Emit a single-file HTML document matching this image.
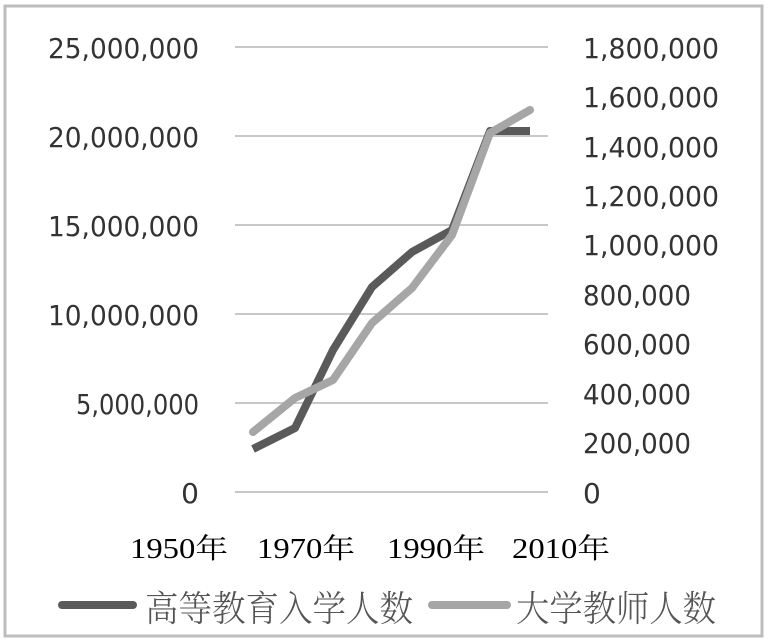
<!DOCTYPE html>
<html><head><meta charset="utf-8"><style>
html,body{margin:0;padding:0;background:#fff;}
svg{display:block;}
</style></head><body>
<svg width="768" height="644" viewBox="0 0 768 644" xmlns="http://www.w3.org/2000/svg">
<rect x="0" y="0" width="768" height="644" fill="#fff"/>
<rect x="5" y="6" width="757" height="630" fill="#fff" stroke="#bdbdbd" stroke-width="3"/>
<g stroke="#c8c8c8" stroke-width="2">
<line x1="235" y1="47" x2="548" y2="47"/>
<line x1="235" y1="136" x2="548" y2="136"/>
<line x1="235" y1="225" x2="548" y2="225"/>
<line x1="235" y1="314" x2="548" y2="314"/>
<line x1="235" y1="403" x2="548" y2="403"/>
<line x1="235" y1="492" x2="548" y2="492"/>
</g>
<g font-family="DejaVu Sans, Liberation Sans, sans-serif" font-size="28" fill="#333" text-anchor="end">
<text x="199" y="58" textLength="151" lengthAdjust="spacingAndGlyphs">25,000,000</text>
<text x="199" y="147" textLength="151" lengthAdjust="spacingAndGlyphs">20,000,000</text>
<text x="199" y="236" textLength="151" lengthAdjust="spacingAndGlyphs">15,000,000</text>
<text x="199" y="325" textLength="151" lengthAdjust="spacingAndGlyphs">10,000,000</text>
<text x="199" y="414" textLength="123" lengthAdjust="spacingAndGlyphs">5,000,000</text>
<text x="199" y="503">0</text>
</g>
<g font-family="DejaVu Sans, Liberation Sans, sans-serif" font-size="28" fill="#333" text-anchor="start">
<text x="583" y="58" textLength="136" lengthAdjust="spacingAndGlyphs">1,800,000</text>
<text x="583" y="107" textLength="136" lengthAdjust="spacingAndGlyphs">1,600,000</text>
<text x="583" y="157" textLength="136" lengthAdjust="spacingAndGlyphs">1,400,000</text>
<text x="583" y="206" textLength="136" lengthAdjust="spacingAndGlyphs">1,200,000</text>
<text x="583" y="255" textLength="136" lengthAdjust="spacingAndGlyphs">1,000,000</text>
<text x="583" y="305" textLength="108" lengthAdjust="spacingAndGlyphs">800,000</text>
<text x="583" y="354" textLength="108" lengthAdjust="spacingAndGlyphs">600,000</text>
<text x="583" y="404" textLength="108" lengthAdjust="spacingAndGlyphs">400,000</text>
<text x="583" y="453" textLength="108" lengthAdjust="spacingAndGlyphs">200,000</text>
<text x="583" y="503">0</text>
</g>
<g font-family="Liberation Serif, Noto Serif CJK SC, serif" font-size="28" fill="#000">
<text x="130" y="558" textLength="98" lengthAdjust="spacingAndGlyphs">1950年</text>
<text x="257" y="558" textLength="98" lengthAdjust="spacingAndGlyphs">1970年</text>
<text x="387" y="558" textLength="98" lengthAdjust="spacingAndGlyphs">1990年</text>
<text x="512" y="558" textLength="98" lengthAdjust="spacingAndGlyphs">2010年</text>
</g>
<polyline fill="none" stroke="#5a5a5a" stroke-width="8" stroke-linejoin="round" points="253,449 295,428 333,350 372,287 412,252 452,230 490,131 530,131"/>
<polyline fill="none" stroke="#a6a6a6" stroke-width="8" stroke-linejoin="round" stroke-linecap="round" points="253,432 295,398 333,380 372,323 412,288 452,235 490,133 530,110"/>
<line x1="62" y1="605" x2="133" y2="605" stroke="#5a5a5a" stroke-width="8" stroke-linecap="round"/>
<line x1="432" y1="605" x2="507" y2="605" stroke="#a6a6a6" stroke-width="8" stroke-linecap="round"/>
<g font-family="Noto Serif CJK SC, Noto Sans CJK SC, serif" font-size="36" font-weight="300" fill="#555">
<text x="145" y="621" textLength="268" lengthAdjust="spacingAndGlyphs">高等教育入学人数</text>
<text x="516" y="621" textLength="200" lengthAdjust="spacingAndGlyphs">大学教师人数</text>
</g>
</svg>
</body></html>
